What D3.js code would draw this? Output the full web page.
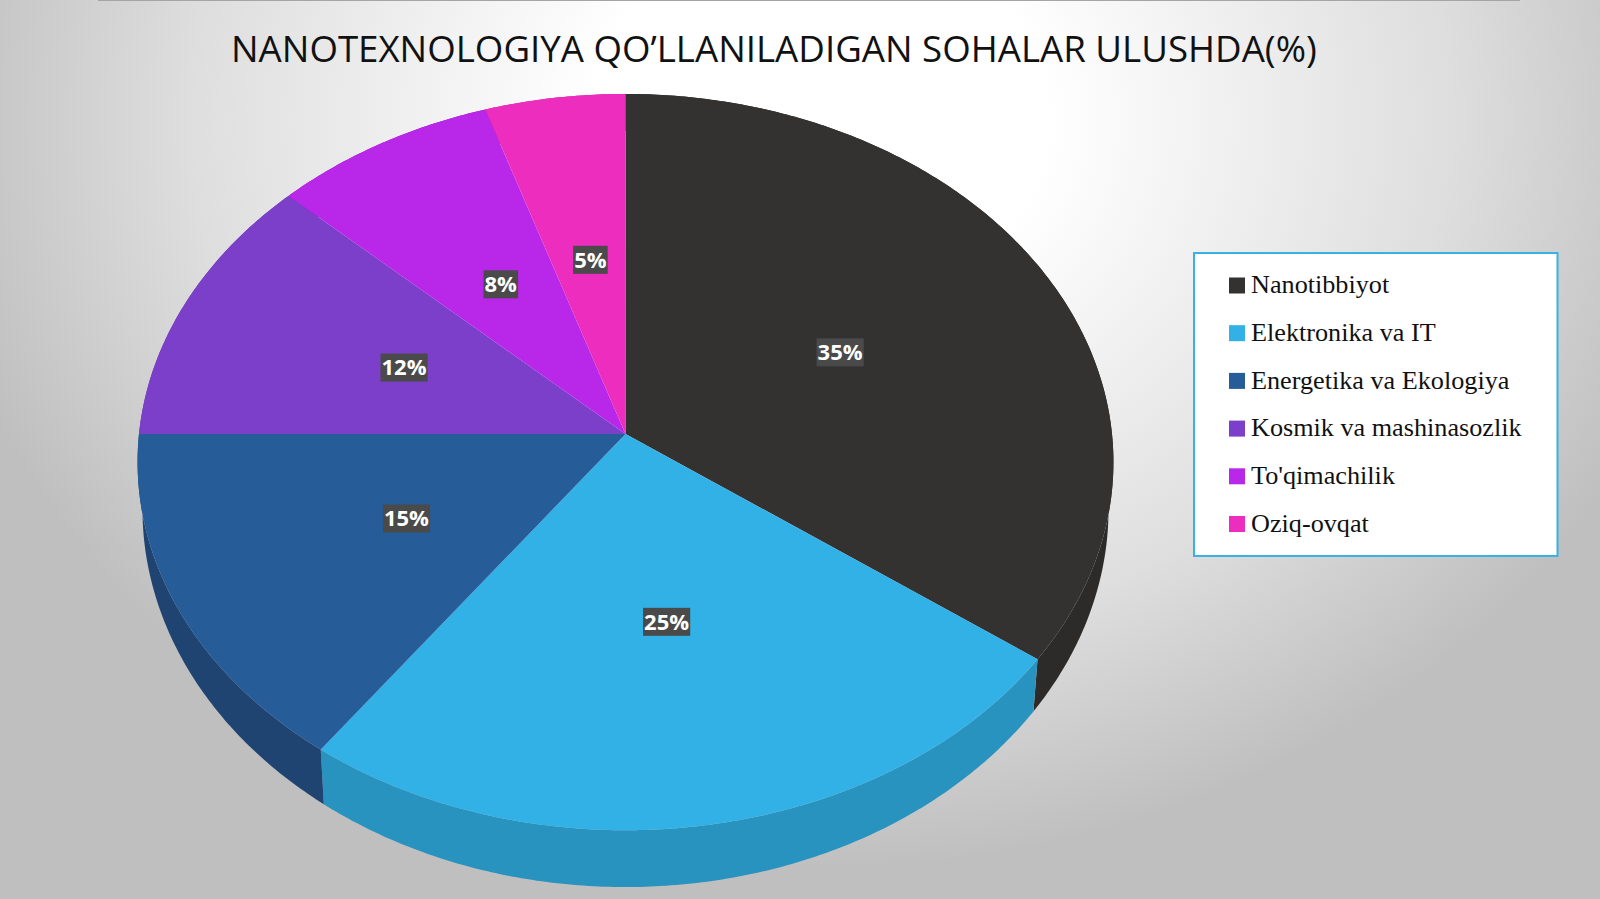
<!DOCTYPE html>
<html>
<head>
<meta charset="utf-8">
<script src="https://cdn.jsdelivr.net/npm/d3@7"></script>
<style>
  html, body { margin: 0; padding: 0; background: #fff; overflow: hidden; }
</style>
</head>
<body>
<div id="chart"></div>
<script>
// data
var categories = ["Nanotibbiyot", "Elektronika va IT", "Energetika va Ekologiya", "Kosmik va mashinasozlik", "To'qimachilik", "Oziq-ovqat"];
var values = [35, 25, 15, 12, 8, 5];
var topColors = ["#333231", "#32b1e6", "#265c98", "#7b3fca", "#b927e8", "#ec2dbd"];
var sideColors = ["#2d2b2a", "#2993c0", "#1f4472", "#5f2f9e", "#8f1eb4", "#b82292"];
var title = "NANOTEXNOLOGIYA QO\u2019LLANILADIGAN SOHALAR ULUSHDA(%)";

var width = 1600, height = 899;

var svg = d3.select("#chart").append("svg")
    .attr("width", width)
    .attr("height", height)
    .style("display", "block");

// slide background
var defs = svg.append("defs");
var bg = defs.append("radialGradient")
    .attr("id", "bg")
    .attr("gradientUnits", "userSpaceOnUse")
    .attr("cx", 0).attr("cy", 0).attr("r", 1)
    .attr("gradientTransform", "translate(820,120) scale(900,750)");
bg.append("stop").attr("offset", "0.25").attr("stop-color", "#ffffff");
bg.append("stop").attr("offset", "0.7").attr("stop-color", "#dedede");
bg.append("stop").attr("offset", "1").attr("stop-color", "#bfbfbf");

svg.append("rect")
    .attr("width", width)
    .attr("height", height)
    .attr("fill", "url(#bg)");

svg.append("line")
    .attr("x1", 98).attr("x2", 1520)
    .attr("y1", 0).attr("y2", 0)
    .attr("stroke", "#a5a5a5")
    .attr("stroke-width", 2);

// tilted pie: a circle seen in perspective, so the hub sits above the middle
var hubX = 625.5, hubY = 434;
var rx = 486.5, ry = 366, tilt = 0.0763;

function project(plane, angle, r) {
    var u = Math.sin(angle) * r, v = -Math.cos(angle) * r;
    var w = 1 - tilt * v;
    return [plane.x + plane.rx * u / w, plane.y + plane.ry * v / w];
}

var topPlane = {x: hubX, y: hubY, rx: rx, ry: ry};
var bottomPlane = {x: hubX, y: 480, rx: rx * 0.99, ry: 376};

function rim(plane, a0, a1) {
    var n = Math.max(2, Math.ceil((a1 - a0) / 0.01));
    return d3.range(n + 1).map(function(i) {
        return project(plane, a0 + (a1 - a0) * i / n, 1);
    });
}

var line = d3.line();
var arcs = d3.pie().sort(null)(values);

var pie = svg.append("g");

// side wall first, the top face covers whatever is behind it
pie.selectAll("path.side")
    .data(arcs)
    .enter()
    .append("path")
    .attr("class", "side")
    .attr("fill", function(d) { return sideColors[d.index]; })
    .attr("d", function(d) {
        return line(rim(topPlane, d.startAngle, d.endAngle)
            .concat(rim(bottomPlane, d.startAngle, d.endAngle).reverse())) + "Z";
    });

pie.selectAll("path.face")
    .data(arcs)
    .enter()
    .append("path")
    .attr("class", "face")
    .attr("fill", function(d) { return topColors[d.index]; })
    .attr("d", function(d) {
        return line([[hubX, hubY]].concat(rim(topPlane, d.startAngle, d.endAngle))) + "Z";
    });

// percent labels, halfway out on the tilted disc
var labels = svg.append("g").selectAll("g")
    .data(arcs)
    .enter()
    .append("g")
    .attr("transform", function(d) {
        var p = project(topPlane, (d.startAngle + d.endAngle) / 2, 0.5);
        return "translate(" + (p[0] + 1.5) + "," + p[1] + ")";
    });

labels.append("rect").attr("fill", "#4a4a4a");

labels.append("text")
    .attr("text-anchor", "middle")
    .attr("dy", "0.36em")
    .attr("font-family", "'Open Sans'")
    .attr("font-weight", 700)
    .attr("font-size", 22)
    .attr("fill", "#ffffff")
    .text(function(d) { return d.value + "%"; });

labels.each(function() {
    var g = d3.select(this);
    var b = g.select("text").node().getBBox();
    g.select("rect")
        .attr("x", b.x - 1)
        .attr("y", -14)
        .attr("width", b.width + 2)
        .attr("height", 28);
});

// title
svg.append("text")
    .attr("x", 231)
    .attr("y", 62)
    .attr("font-family", "'Open Sans'")
    .attr("font-size", 36.66)
    .attr("fill", "#111111")
    .text(title);

// legend
var legend = svg.append("g");
var legendY = d3.scalePoint()
    .domain(categories)
    .range([285.5, 524]);

legend.append("rect")
    .attr("x", 1194)
    .attr("y", 253)
    .attr("width", 363.5)
    .attr("height", 303)
    .attr("fill", "#ffffff")
    .attr("stroke", "#36b2e4")
    .attr("stroke-width", 2);

legend.selectAll("rect.swatch")
    .data(categories)
    .enter()
    .append("rect")
    .attr("class", "swatch")
    .attr("x", 1229)
    .attr("y", function(d) { return legendY(d) - 8; })
    .attr("width", 16)
    .attr("height", 16)
    .attr("fill", function(d, i) { return topColors[i]; });

legend.selectAll("text")
    .data(categories)
    .enter()
    .append("text")
    .attr("x", 1251)
    .attr("y", function(d) { return legendY(d); })
    .attr("dy", "0.3em")
    .attr("font-family", "'Liberation Serif'")
    .attr("font-size", 26.2)
    .attr("fill", "#111111")
    .text(function(d) { return d; });
</script>
</body>
</html>
